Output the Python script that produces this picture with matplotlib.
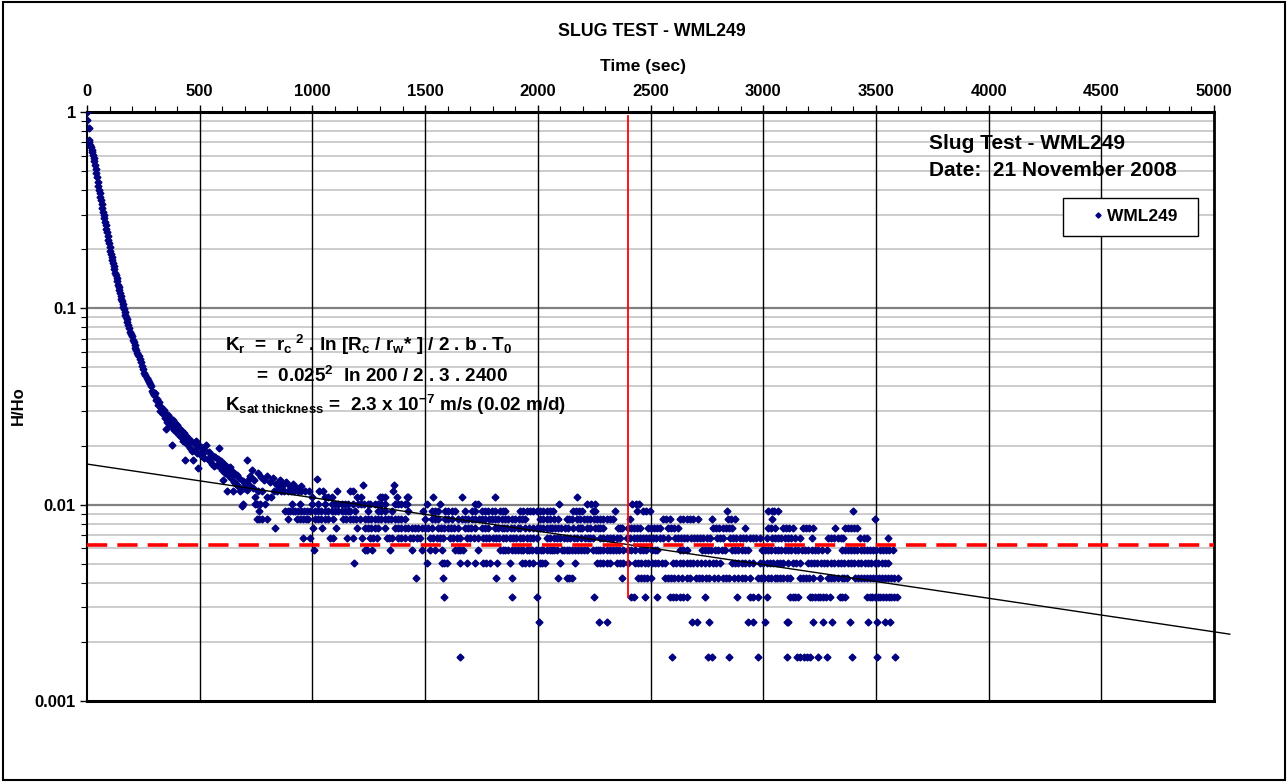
import matplotlib
matplotlib.use("Agg")
import matplotlib.pyplot as plt
from matplotlib.ticker import FixedLocator, FixedFormatter, NullFormatter
from matplotlib.patches import Rectangle
from matplotlib.legend_handler import HandlerLine2D

plt.rcParams['font.family'] = ['Liberation Sans', 'DejaVu Sans']
plt.rcParams['mathtext.fontset'] = 'custom'
plt.rcParams['mathtext.rm'] = 'Liberation Sans:bold'
plt.rcParams['mathtext.it'] = 'Liberation Sans:bold'
plt.rcParams['mathtext.bf'] = 'Liberation Sans:bold'

# ---------------- data ----------------
# early (continuous) part of the recovery: time (s), H/Ho
t_early = [0, 1, 8, 9, 11, 14, 17, 20, 23, 26, 29, 32, 35, 38, 41, 44, 47, 50, 53, 56,
           59, 62, 65, 68, 71, 74, 77, 80, 83, 86, 89, 92, 95, 98, 101, 104, 107, 110,
           113, 116, 119, 122, 125, 128, 131, 134, 137, 140, 143, 146, 149, 152, 155,
           158, 161, 164, 167, 170, 173, 176, 179, 183, 187, 191, 195, 199, 203, 207,
           211, 215, 219, 223, 227, 231, 235, 239, 244, 249, 254, 259, 264, 269, 274,
           279, 284, 289, 294, 299,
           300, 305, 310, 315, 320, 325, 330, 335, 340, 345, 350, 352, 355, 360, 365,
           370, 375, 378, 380, 385, 390, 395, 400, 405, 410, 415, 420, 425, 430, 435,
           438, 440, 445, 450, 455, 460, 465, 470, 475, 480, 485, 490, 493, 495, 500,
           505, 510, 515, 520, 525, 530, 535, 540, 545, 550, 555, 560, 565, 570, 575,
           580, 586, 590, 595, 600, 604, 608, 612, 616, 620, 625, 630, 635, 640, 645,
           648, 652, 656, 660, 665, 670, 675, 680, 686, 690, 695, 700, 708, 712, 716,
           720, 725, 730, 735, 740, 760, 770, 785, 800, 812, 825, 840, 856, 870, 885,
           900, 914, 930, 950]
h_early = [1.0, 0.91, 0.83, 0.72, 0.70, 0.68, 0.66, 0.64, 0.625, 0.605, 0.585, 0.56,
           0.535, 0.51, 0.49, 0.465, 0.44, 0.42, 0.40, 0.385, 0.37, 0.355, 0.34, 0.325,
           0.31, 0.30, 0.288, 0.276, 0.265, 0.254, 0.244, 0.234, 0.224, 0.214, 0.205,
           0.197, 0.19, 0.183, 0.176, 0.17, 0.164, 0.158, 0.152, 0.147, 0.142, 0.137,
           0.132, 0.128, 0.124, 0.120, 0.116, 0.112, 0.109, 0.105, 0.102, 0.099, 0.096,
           0.093, 0.090, 0.088, 0.085, 0.082, 0.079, 0.076, 0.074, 0.072, 0.069, 0.067,
           0.065, 0.063, 0.061, 0.0595, 0.058, 0.057, 0.055, 0.053, 0.051, 0.049, 0.047,
           0.046, 0.044, 0.043, 0.042, 0.041, 0.040, 0.038, 0.037, 0.036,
           0.037, 0.034, 0.0345, 0.032, 0.0335, 0.030, 0.0315, 0.029, 0.0305, 0.0275,
           0.0242, 0.029, 0.0265, 0.0285, 0.0258, 0.0275, 0.0201, 0.025, 0.027, 0.0240,
           0.0262, 0.0236, 0.0255, 0.0228, 0.0245, 0.0220, 0.0238, 0.0212, 0.0232,
           0.0169, 0.0205, 0.0225, 0.0203, 0.0218, 0.0195, 0.0212, 0.0188, 0.0169,
           0.0205, 0.0190, 0.0210, 0.0183, 0.0154, 0.0199, 0.0182, 0.0197, 0.0176,
           0.0191, 0.0172, 0.0188, 0.0201, 0.0170, 0.0185, 0.0166, 0.0180, 0.0162,
           0.0178, 0.0158, 0.0174, 0.0160, 0.0171, 0.0194, 0.0155, 0.0167, 0.0150,
           0.0133, 0.0162, 0.0145, 0.0158, 0.0118, 0.0150, 0.0140, 0.0155, 0.0136,
           0.0148, 0.0118, 0.0131, 0.0144, 0.0128, 0.0141, 0.0125, 0.0137, 0.0118,
           0.0099, 0.0132, 0.0122, 0.0128, 0.0169, 0.0119, 0.0133, 0.0126, 0.0140,
           0.0150, 0.0121, 0.0133, 0.0145, 0.0138, 0.0133, 0.0140, 0.0131, 0.0136,
           0.0128, 0.0133, 0.0126, 0.0130, 0.0124, 0.0127, 0.0122, 0.0125]

# late part: the logger resolution gives discrete H/Ho levels
levels = [0.00168, 0.00253, 0.00337, 0.00421, 0.00506, 0.00590, 0.00673,
          0.00757, 0.00843, 0.00927, 0.0101, 0.0110, 0.0118, 0.0126, 0.0135]

t_L2 = [1655, 2597, 2756, 2771, 2849, 2978, 3105, 3150, 3165, 3180, 3195, 3207, 3243,
        3283, 3394, 3504, 3584]
t_L3 = [2005, 2271, 2305, 2683, 2706, 2759, 2932, 2954, 3008, 3106, 3110, 3221, 3265,
        3305, 3385, 3465, 3505, 3540, 3562]
t_L4 = [1584, 1884, 1995, 2249, 2413, 2428, 2475, 2530, 2586, 2600, 2615, 2630, 2645,
        2662, 2741, 2882, 2941, 2955, 2978, 3019, 3119, 3130, 3142, 3154, 3207, 3218,
        3230, 3242, 3254, 3266, 3278, 3296, 3340, 3350, 3362, 3460, 3472, 3484, 3496,
        3508, 3520, 3532, 3544, 3556, 3568, 3580, 3593]
t_L5 = [1459, 1578, 1813, 1884, 2091, 2128, 2140, 2150, 2372, 2444, 2456, 2470, 2485,
        2500, 2564, 2578, 2592, 2606, 2620, 2640, 2660, 2675, 2700, 2714, 2730, 2745,
        2760, 2780, 2799, 2821, 2835, 2850, 2870, 2890, 2905, 2919, 2941, 2977, 2990,
        3005, 3020, 3036, 3052, 3061, 3075, 3090, 3105, 3119, 3163, 3177, 3191, 3205,
        3220, 3252, 3287, 3300, 3315, 3331, 3349, 3360, 3371, 3407, 3420, 3433, 3446,
        3460, 3473, 3486, 3500, 3513, 3526, 3540, 3553, 3566, 3580, 3598]
t_L6 = [1184, 1507, 1573, 1585, 1596, 1655, 1684, 1721, 1757, 1770, 1788, 1817, 1876,
        1928, 1945, 1962, 1980, 2010, 2020, 2032, 2098, 2165, 2262, 2275, 2290, 2305,
        2320, 2351, 2365, 2380, 2400, 2431, 2445, 2460, 2475, 2490, 2505, 2520, 2535,
        2550, 2564, 2600, 2615, 2630, 2645, 2660, 2675, 2690, 2706, 2725, 2740, 2760,
        2777, 2792, 2808, 2861, 2875, 2890, 2905, 2920, 2935, 2954, 2985, 3000, 3015,
        3030, 3045, 3060, 3075, 3090, 3110, 3132, 3147, 3163, 3198, 3212, 3226, 3240,
        3255, 3270, 3285, 3300, 3315, 3330, 3345, 3360, 3375, 3390, 3405, 3420, 3435,
        3450, 3465, 3480, 3495, 3510, 3525, 3540, 3553]
t_L7 = [1007, 1232, 1241, 1263, 1344, 1440, 1485, 1522, 1544, 1573, 1632, 1645, 1656,
        1668, 1735, 1832, 1845, 1854, 1868, 1885, 1899, 1912, 1925, 1934, 1952, 1963,
        1974, 1990, 2000, 2012, 2023, 2041, 2052, 2063, 2074, 2085, 2107, 2118, 2129,
        2140, 2151, 2165, 2178, 2190, 2203, 2218, 2245, 2256, 2267, 2278, 2289, 2307,
        2320, 2333, 2346, 2360, 2378, 2400, 2415, 2430, 2453, 2465, 2478, 2506, 2518,
        2529, 2631, 2646, 2662, 2728, 2742, 2756, 2770, 2785, 2800, 2815, 2830, 2861,
        2875, 2890, 2905, 2918, 2932, 2994, 3008, 3022, 3036, 3052, 3065, 3080, 3095,
        3110, 3125, 3140, 3155, 3170, 3185, 3200, 3215, 3230, 3245, 3260, 3283, 3349,
        3362, 3376, 3390, 3404, 3418, 3432, 3446, 3460, 3474, 3488, 3502, 3516, 3530,
        3545, 3560, 3575]
t_L8 = [958, 989, 1078, 1091, 1152, 1180, 1219, 1255, 1270, 1286, 1329, 1340, 1352,
        1380, 1395, 1411, 1433, 1448, 1462, 1477, 1522, 1537, 1552, 1566, 1580, 1610,
        1625, 1640, 1655, 1686, 1700, 1715, 1735, 1757, 1770, 1785, 1800, 1815, 1830,
        1845, 1860, 1875, 1890, 1905, 1920, 1935, 1950, 1965, 1980, 1996, 2041, 2055,
        2070, 2085, 2100, 2115, 2130, 2145, 2160, 2175, 2190, 2209, 2222, 2233, 2245,
        2276, 2290, 2305, 2320, 2335, 2350, 2364, 2395, 2410, 2425, 2440, 2453, 2465,
        2480, 2495, 2510, 2525, 2540, 2555, 2577, 2608, 2622, 2636, 2650, 2664, 2678,
        2692, 2706, 2720, 2735, 2750, 2764, 2795, 2808, 2821, 2852, 2866, 2880, 2895,
        2910, 2925, 2940, 2955, 2970, 2985, 3017, 3039, 3052, 3065, 3080, 3095, 3110,
        3125, 3140, 3163, 3216, 3287, 3300, 3315, 3330, 3345, 3354, 3429, 3445, 3460,
        3553]
t_L9 = [834, 1002, 1041, 1105, 1196, 1233, 1248, 1262, 1276, 1291, 1322, 1366, 1380,
        1395, 1410, 1425, 1440, 1455, 1470, 1485, 1500, 1515, 1530, 1557, 1570, 1585,
        1600, 1615, 1630, 1646, 1677, 1690, 1705, 1721, 1752, 1766, 1780, 1810, 1825,
        1840, 1850, 1865, 1880, 1895, 1910, 1921, 1943, 1960, 1978, 1996, 2010, 2025,
        2040, 2052, 2063, 2076, 2090, 2105, 2120, 2135, 2156, 2178, 2187, 2196, 2218,
        2231, 2253, 2265, 2277, 2289, 2356, 2365, 2373, 2400, 2412, 2425, 2440, 2453,
        2489, 2500, 2515, 2530, 2542, 2577, 2590, 2605, 2622, 2777, 2790, 2805, 2820,
        2835, 2848, 2861, 2919, 3021, 3036, 3052, 3088, 3100, 3115, 3132, 3176, 3190,
        3205, 3220, 3318, 3363, 3376, 3390, 3403, 3416]
t_L10 = [753, 764, 775, 797, 893, 930, 945, 960, 970, 982, 1011, 1025, 1040, 1055, 1070,
         1091, 1136, 1150, 1165, 1180, 1195, 1211, 1233, 1246, 1262, 1276, 1290, 1305,
         1320, 1335, 1350, 1365, 1380, 1395, 1411, 1500, 1530, 1545, 1559, 1589, 1603,
         1618, 1648, 1662, 1677, 1692, 1707, 1722, 1737, 1752, 1767, 1782, 1797, 1812,
         1825, 1840, 1855, 1870, 1884, 1900, 1915, 1930, 1943, 2010, 2025, 2040, 2055,
         2070, 2089, 2129, 2140, 2151, 2174, 2188, 2203, 2218, 2233, 2248, 2262, 2276,
         2290, 2305, 2320, 2333, 2409, 2555, 2570, 2586, 2631, 2645, 2660, 2675, 2690,
         2711, 2771, 2843, 2858, 2875, 3037, 3496]
t_L11 = [763, 878, 890, 900, 912, 925, 937, 950, 962, 975, 989, 1011, 1025, 1040, 1055,
         1070, 1085, 1100, 1115, 1130, 1145, 1160, 1167, 1189, 1246, 1291, 1306, 1322,
         1352, 1425, 1492, 1529, 1544, 1558, 1588, 1603, 1618, 1632, 1677, 1707, 1721,
         1751, 1765, 1780, 1795, 1810, 1832, 1845, 1854, 1921, 1935, 1950, 1965, 1980,
         1995, 2010, 2025, 2040, 2053, 2067, 2156, 2170, 2183, 2196, 2245, 2253, 2342,
         2438, 2466, 2480, 2497, 2838, 3022, 3037, 3050, 3065, 3400]
t_L12 = [692, 745, 755, 768, 790, 908, 945, 997, 1025, 1056, 1087, 1100, 1115, 1130,
         1145, 1160, 1180, 1202, 1215, 1230, 1245, 1255, 1278, 1290, 1305, 1322, 1366,
         1380, 1395, 1410, 1420, 1507, 1566, 1721, 1735, 2095, 2217, 2235, 2253, 2416,
         2435, 2449]
t_L13 = [745, 800, 815, 1000, 1055, 1070, 1085, 1200, 1215, 1300, 1310, 1322, 1374,
         1418, 1425, 1536, 1662, 1810, 2172]
t_L14 = [760, 775, 830, 845, 860, 875, 890, 905, 920, 935, 950, 965, 985, 1030, 1045,
         1110, 1165, 1180, 1359]
t_L15 = [850, 1226, 1362]
t_L16 = [1019]

# reference lines
trend_t = [0, 5070]
trend_h = [0.0161, 0.00219]
h_target = 0.0062
t0_time = 2400
t0_range = [0.0034, 0.95]

x_ticks = [0, 500, 1000, 1500, 2000, 2500, 3000, 3500, 4000, 4500, 5000]
y_ticks = [0.001, 0.01, 0.1, 1]
y_tick_labels = ['0.001', '0.01', '0.1', '1']

# ---------------- figure ----------------
W, H = 1287, 782
fig = plt.figure(figsize=(W / 100, H / 100), dpi=100)
fig.patches.append(Rectangle((3 / W, 2 / H), (W - 5) / W, (H - 4) / H, transform=fig.transFigure,
                             fill=False, edgecolor='black', linewidth=1.5))
ax = fig.add_axes([87 / W, 1 - 701 / H, (1214 - 87) / W, (701 - 112) / H])

ax.set_yscale('log')
ax.set_xlim(0, 5000)
ax.set_ylim(0.001, 1)

# grid
minor_vals = [m * 10.0 ** e for e in (-3, -2, -1) for m in range(2, 10)]
for v in minor_vals:
    ax.axhline(v, color='#c8c8c8', lw=1.3, zorder=0)
for v in (0.01, 0.1):
    ax.axhline(v, color='#808080', lw=1.6, zorder=0.5)
for xv in x_ticks[1:-1]:
    ax.axvline(xv, color='black', lw=1.0, zorder=0.6)

# data
navy = '#000080'
mk = dict(marker='D', ms=3.5, color=navy, mec=navy, linestyle='none', zorder=3)
series, = ax.plot(t_early, h_early, label='WML249  ', **mk)
level_times = [t_L2, t_L3, t_L4, t_L5, t_L6, t_L7, t_L8, t_L9, t_L10, t_L11, t_L12,
               t_L13, t_L14, t_L15, t_L16]
for lv, ts in zip(levels, level_times):
    ax.plot(ts, [lv] * len(ts), **mk)

ax.plot(trend_t, trend_h, color='black', lw=1.0, zorder=4, clip_on=False)
ax.axhline(h_target, color='red', lw=2.6, dashes=(5.6, 2.8), zorder=4)
ax.plot([t0_time, t0_time], t0_range, color='red', lw=1.3, zorder=4)

# axes styling
ax.xaxis.tick_top()
ax.xaxis.set_major_locator(FixedLocator(x_ticks))
ax.xaxis.set_minor_locator(FixedLocator(list(range(0, 5001, 100))))
ax.xaxis.set_minor_formatter(NullFormatter())
ax.set_xticklabels([str(v) for v in x_ticks], fontsize=12, fontweight='bold')
ax.yaxis.set_major_locator(FixedLocator(y_ticks))
ax.yaxis.set_major_formatter(FixedFormatter(y_tick_labels))
ax.yaxis.set_minor_locator(FixedLocator(minor_vals))
ax.yaxis.set_minor_formatter(NullFormatter())
for lab in ax.get_yticklabels():
    lab.set_fontsize(12)
    lab.set_fontweight('bold')
ax.tick_params(axis='both', which='major', direction='out', length=5, width=1.0)
ax.tick_params(axis='x', which='major', pad=4.5)
ax.tick_params(axis='y', which='major', pad=3)
ax.tick_params(axis='both', which='minor', direction='out', length=4, width=0.8)
for side in ('top', 'bottom'):
    ax.spines[side].set_linewidth(2.2)
ax.spines['left'].set_linewidth(1.5)
ax.spines['right'].set_linewidth(2.0)

fig.text(652 / W, 1 - 32 / H, 'SLUG TEST - WML249', ha='center', va='center',
         fontsize=12.8, fontweight='bold')
fig.text(643 / W, 1 - 66 / H, 'Time (sec)', ha='center', va='center',
         fontsize=12.5, fontweight='bold')
fig.text(18 / W, 1 - 406 / H, 'H/Ho', ha='center', va='center', rotation=90,
         fontsize=12, fontweight='bold')

# annotations
ax.text(0.7475, 0.947, 'Slug Test - WML249', transform=ax.transAxes, fontsize=15,
        fontweight='bold', va='center', ha='left')
ax.text(0.7475, 0.901, 'Date:  21 November 2008', transform=ax.transAxes, fontsize=15,
        fontweight='bold', va='center', ha='left')

eq_kw = dict(transform=ax.transAxes, fontsize=13.6, fontweight='bold', va='center', ha='left')
ax.text(0.1225, 0.604, r'K$_\mathregular{r}$  =  r$_\mathregular{c}$$^\mathregular{\ 2}$ . ln [R$_\mathregular{c}$ / r$_\mathregular{w}$* ] / 2 . b . T$_\mathregular{0}$', **eq_kw)
ax.text(0.150, 0.552, r'=  0.025$^\mathregular{2}$  ln 200 / 2 . 3 . 2400', **eq_kw)
ax.text(0.1225, 0.503, r'K$_\mathregular{sat\ thickness}$ =  2.3 x 10$^\mathregular{-7}$ m/s (0.02 m/d)', **eq_kw)

leg = ax.legend(handles=[series], loc='center', bbox_to_anchor=(0.926, 0.822), frameon=True,
                fancybox=False, edgecolor='black', framealpha=1, borderpad=0.65,
                handlelength=1.55, handletextpad=0.3, borderaxespad=0,
                prop={'weight': 'bold', 'size': 12.5}, markerscale=0.75,
                handler_map={series: HandlerLine2D(numpoints=1, xpad=1.21)})
leg.get_frame().set_linewidth(1.0)

fig.savefig('out.png', dpi=100, facecolor='white')
